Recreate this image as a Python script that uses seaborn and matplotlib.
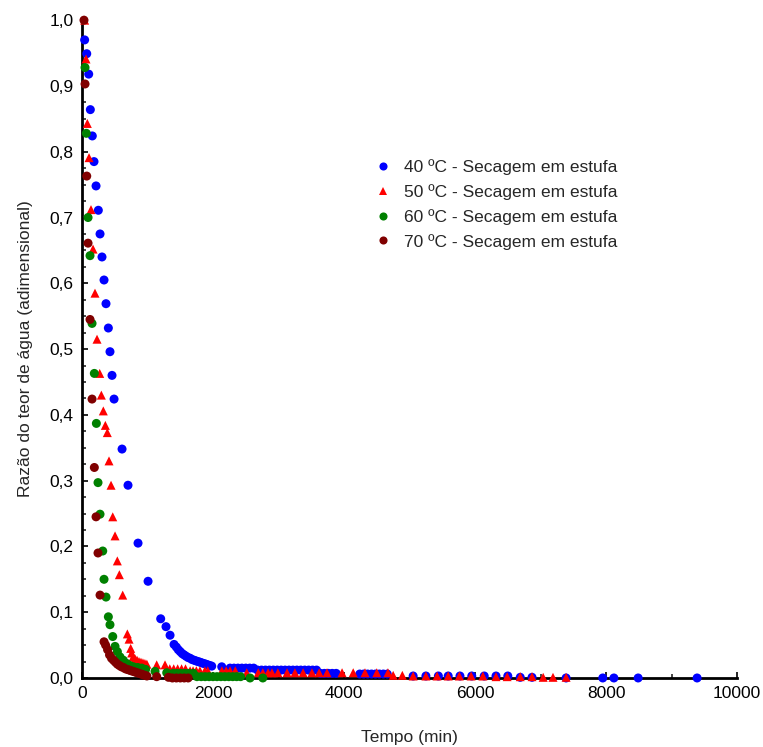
import matplotlib
matplotlib.use("Agg")
import matplotlib.pyplot as plt
import seaborn as sns
import pandas as pd
from matplotlib.ticker import MultipleLocator, FuncFormatter

# ---- data ----
labels = ["40 ºC - Secagem em estufa", "50 ºC - Secagem em estufa",
          "60 ºC - Secagem em estufa", "70 ºC - Secagem em estufa"]

t40 = [40, 72, 102, 127, 157, 183, 214, 249, 275, 305, 336, 366, 402, 427, 458, 489,
       611, 702, 855, 1008, 1201, 1282, 1344, 1405, 1440, 1470, 1500, 1530, 1560, 1590,
       1620, 1650, 1680, 1710, 1740, 1770, 1800, 1830, 1860, 1890, 1920, 1950, 1980,
       2133, 2260, 2320, 2380, 2440, 2500, 2560, 2620, 2680, 2740, 2800, 2860, 2920,
       2980, 3040, 3100, 3160, 3220, 3280, 3340, 3400, 3460, 3520, 3580, 3640, 3700,
       3760, 3820, 3880, 4240, 4300, 4360, 4420, 4480, 4540, 4600, 4660, 5055, 5250,
       5440, 5590, 5770, 5950, 6140, 6320, 6500, 6690, 6870, 7390, 7950, 8120, 8490, 9390]
y40 = [0.970, 0.949, 0.918, 0.864, 0.824, 0.785, 0.748, 0.711, 0.675, 0.640, 0.605,
       0.569, 0.532, 0.496, 0.460, 0.424, 0.348, 0.293, 0.205, 0.147, 0.090, 0.078,
       0.065, 0.051, 0.047, 0.043, 0.040, 0.037, 0.035, 0.033, 0.031, 0.030, 0.028,
       0.027, 0.026, 0.025, 0.024, 0.023, 0.022, 0.021, 0.020, 0.019, 0.018, 0.017,
       0.015, 0.015, 0.015, 0.015, 0.015, 0.015, 0.015, 0.012, 0.012, 0.012, 0.012,
       0.012, 0.012, 0.012, 0.012, 0.012, 0.012, 0.012, 0.012, 0.012, 0.012, 0.012,
       0.012, 0.007, 0.007, 0.007, 0.007, 0.007, 0.006, 0.006, 0.006, 0.006, 0.006,
       0.006, 0.006, 0.006, 0.003, 0.003, 0.003, 0.003, 0.003, 0.003, 0.003, 0.003,
       0.003, 0.001, 0.001, 0.000, 0.000, 0.000, 0.000, 0.000]

t50 = [40, 61, 81, 107, 137, 168, 198, 229, 270, 295, 325, 356, 386, 412, 443, 469,
       504, 539, 570, 621, 692, 718, 743, 758, 780, 810, 840, 870, 900, 930, 960, 990,
       1140, 1267, 1340, 1400, 1460, 1520, 1580, 1650, 1695, 1745, 1800, 1875, 1920,
       2135, 2200, 2260, 2340, 2515, 2690, 2760, 2840, 2900, 2990, 3130, 3250, 3375,
       3510, 3620, 3740, 3970, 4140, 4320, 4500, 4670, 4750, 4890, 5055, 5250, 5420,
       5590, 5760, 5940, 6120, 6320, 6490, 6690, 6870, 7040, 7190, 7390]
y50 = [1.000, 0.941, 0.843, 0.791, 0.712, 0.652, 0.585, 0.515, 0.463, 0.430, 0.406,
       0.384, 0.373, 0.330, 0.293, 0.245, 0.216, 0.178, 0.157, 0.126, 0.067, 0.059,
       0.045, 0.038, 0.032, 0.029, 0.027, 0.025, 0.024, 0.023, 0.022, 0.021, 0.020,
       0.020, 0.014, 0.014, 0.014, 0.014, 0.014, 0.011, 0.011, 0.011, 0.011, 0.011,
       0.011, 0.011, 0.011, 0.011, 0.011, 0.008, 0.008, 0.008, 0.008, 0.008, 0.008,
       0.008, 0.008, 0.008, 0.008, 0.008, 0.008, 0.008, 0.008, 0.008, 0.008, 0.008,
       0.004, 0.004, 0.003, 0.003, 0.003, 0.003, 0.003, 0.003, 0.003, 0.002, 0.002,
       0.002, 0.002, 0.001, 0.001, 0.001]

t60 = [46, 66, 92, 122, 153, 188, 219, 244, 275, 316, 336, 366, 402, 427, 469, 504,
       540, 580, 630, 682, 730, 784, 850, 911, 970, 1115, 1293, 1390, 1450, 1510, 1570,
       1630, 1700, 1755, 1820, 1880, 1940, 2000, 2060, 2120, 2180, 2240, 2300, 2360,
       2420, 2565, 2760]
y60 = [0.928, 0.828, 0.700, 0.642, 0.539, 0.463, 0.387, 0.297, 0.249, 0.193, 0.150,
       0.123, 0.093, 0.081, 0.063, 0.048, 0.040, 0.032, 0.027, 0.022, 0.019, 0.017,
       0.016, 0.015, 0.013, 0.010, 0.008, 0.007, 0.007, 0.007, 0.007, 0.007, 0.007,
       0.002, 0.002, 0.002, 0.002, 0.002, 0.002, 0.002, 0.002, 0.002, 0.002, 0.002,
       0.002, 0.000, 0.000]

t70 = [30, 46, 72, 92, 122, 153, 188, 214, 244, 275, 336, 360, 390, 420, 450, 480,
       510, 540, 570, 600, 630, 660, 690, 720, 750, 780, 810, 840, 870, 900, 930, 960,
       990, 1140, 1320, 1380, 1440, 1500, 1560, 1620]
y70 = [1.000, 0.903, 0.763, 0.661, 0.545, 0.424, 0.320, 0.245, 0.190, 0.126, 0.055,
       0.050, 0.043, 0.035, 0.030, 0.027, 0.024, 0.021, 0.019, 0.017, 0.016, 0.014,
       0.013, 0.012, 0.011, 0.010, 0.009, 0.008, 0.007, 0.006, 0.005, 0.004, 0.003,
       0.002, 0.001, 0.000, 0.000, 0.000, 0.000, 0.000]

x_ticks = [0, 2000, 4000, 6000, 8000, 10000]
y_ticks = [0.0, 0.1, 0.2, 0.3, 0.4, 0.5, 0.6, 0.7, 0.8, 0.9, 1.0]

colors = ["#0000ff", "#ff0000", "#008000", "#800000"]
markers = ["o", "^", "o", "o"]

frames = []
for lab, t, y in zip(labels, [t40, t50, t60, t70], [y40, y50, y60, y70]):
    frames.append(pd.DataFrame({"Tempo": t, "MR": y, "Serie": lab}))
df = pd.concat(frames, ignore_index=True)

# ---- plotting ----
sns.set_style("ticks")
plt.rcParams["font.family"] = ["Liberation Sans", "DejaVu Sans"]

fig = plt.figure(figsize=(7.63, 7.47), dpi=100)
ax = fig.add_axes([0.1075, 0.0924, 0.8585, 0.8806])

sns.scatterplot(data=df, x="Tempo", y="MR", hue="Serie", style="Serie",
                palette=dict(zip(labels, colors)), markers=dict(zip(labels, markers)),
                s=42, linewidth=0, ax=ax, clip_on=False, zorder=3)

ax.set_xlim(0, 10000)
ax.set_ylim(0, 1.0)
ax.set_xticks(x_ticks)
ax.set_yticks(y_ticks)
ax.xaxis.set_minor_locator(MultipleLocator(1000))
ax.yaxis.set_minor_locator(MultipleLocator(0.025))
ax.yaxis.set_major_formatter(FuncFormatter(lambda v, p: f"{v:.1f}".replace(".", ",")))
ax.xaxis.set_major_formatter(FuncFormatter(lambda v, p: f"{int(v)}"))
ax.tick_params(axis="both", which="major", direction="in", length=4, width=1.2,
               labelsize=12.5, colors="black", pad=6)
ax.tick_params(axis="both", which="minor", direction="in", length=3, width=1.2)

for side in ["top", "right"]:
    ax.spines[side].set_visible(False)
for side in ["left", "bottom"]:
    ax.spines[side].set_linewidth(2)
    ax.spines[side].set_color("black")

ax.set_xlabel("Tempo (min)", fontsize=12.5, labelpad=21)
ax.set_ylabel("Razão do teor de água (adimensional)", fontsize=12.5, labelpad=12)

handles, labs = ax.get_legend_handles_labels()
ax.legend(handles, labs, loc="upper left", bbox_to_anchor=(0.422, 0.813),
          frameon=False, fontsize=12.5, handletextpad=0.75, labelspacing=0.52,
          markerscale=0.9, handlelength=1.0)

fig.savefig("out.png", dpi=100)
